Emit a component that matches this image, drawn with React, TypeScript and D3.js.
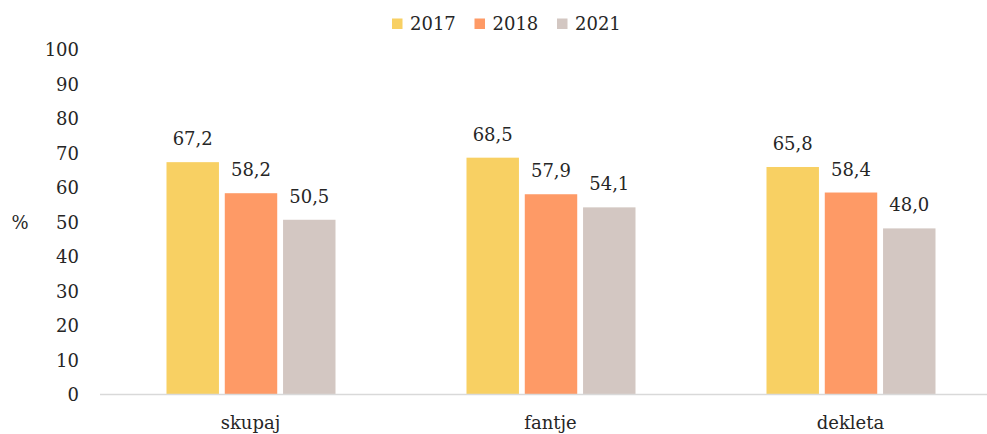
import React from "react";
import * as d3 from "d3";

const categories = ["skupaj", "fantje", "dekleta"];
const seriesNames = ["2017", "2018", "2021"];
const values2017 = [67.2, 68.5, 65.8];
const values2018 = [58.2, 57.9, 58.4];
const values2021 = [50.5, 54.1, 48.0];
const yTicks = [0, 10, 20, 30, 40, 50, 60, 70, 80, 90, 100];
const colors = ["#F8D063", "#FE9A66", "#D3C7C2"];

const W = 987;
const H = 434;
const FONT = "'DejaVu Serif', serif";
const TEXT = "#262626";

export default function App() {
  const seriesValues = [values2017, values2018, values2021];
  const y = d3.scaleLinear().domain([0, 100]).range([394, 49]);
  const x0 = d3.scaleBand<string>().domain(categories).range([100.5, 1000.5]);
  const x1 = d3
    .scaleBand<string>()
    .domain(seriesNames)
    .range([66, 235])
    .paddingInner(0.1)
    .paddingOuter(0);
  const fmt = (v: number) => v.toFixed(1).replace(".", ",");

  return (
    <div style={{ position: "absolute", left: 0, top: 0 }}>
      <svg width={W} height={H} style={{ display: "block", background: "#fff" }}>
        {/* legend */}
        {seriesNames.map((s, i) => {
          const lx = 392 + i * 82.5;
          return (
            <g key={s}>
              <rect x={lx} y={18.5} width={10.5} height={10.5} fill={colors[i]} />
              <text x={lx + 18} y={30} fontFamily={FONT} fontSize={18} fill={TEXT}>
                {s}
              </text>
            </g>
          );
        })}
        {/* y ticks */}
        {yTicks.map((t) => (
          <text
            key={t}
            x={79}
            y={y(t) + 7}
            textAnchor="end"
            fontFamily={FONT}
            fontSize={18}
            fill={TEXT}
          >
            {t}
          </text>
        ))}
        <text x={20} y={229} textAnchor="middle" fontFamily={FONT} fontSize={18} fill={TEXT}>
          %
        </text>
        {/* bars */}
        {categories.map((c, ci) => (
          <g key={c} transform={`translate(${x0(c)},0)`}>
            {seriesNames.map((s, si) => {
              const v = seriesValues[si][ci];
              const bx = x1(s)!;
              const bw = x1.bandwidth();
              return (
                <g key={s}>
                  <rect x={bx} y={y(v)} width={bw} height={y(0) - y(v)} fill={colors[si]} />
                  <text
                    x={bx + bw / 2}
                    y={y(v) - 17}
                    textAnchor="middle"
                    fontFamily={FONT}
                    fontSize={18}
                    fill={TEXT}
                  >
                    {fmt(v)}
                  </text>
                </g>
              );
            })}
            <text
              x={x0.bandwidth() / 2}
              y={429}
              textAnchor="middle"
              fontFamily={FONT}
              fontSize={18}
              fill={TEXT}
            >
              {c}
            </text>
          </g>
        ))}
        <line x1={100} x2={W} y1={394.5} y2={394.5} stroke="#D9D9D9" strokeWidth={1.5} />
      </svg>
    </div>
  );
}
